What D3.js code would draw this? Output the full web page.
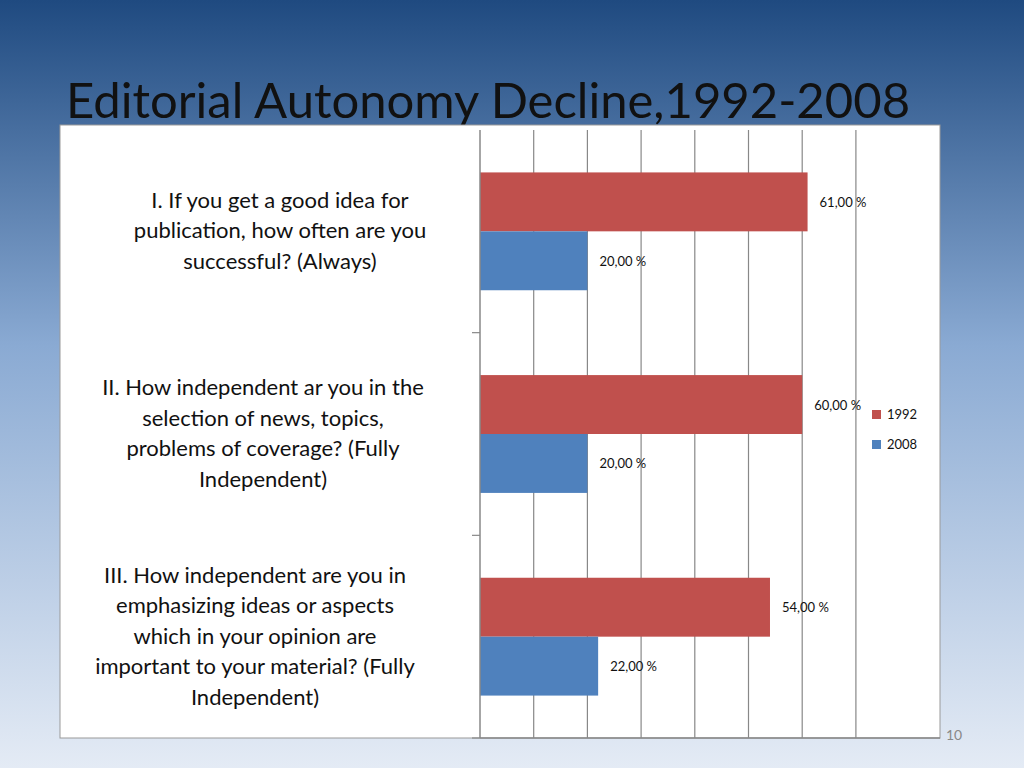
<!DOCTYPE html>
<html><head><meta charset="utf-8">
<script src="https://cdn.jsdelivr.net/npm/d3@7"></script>
<style>body{margin:0}</style></head>
<body><svg id="c" width="1024" height="768"></svg>
<script>
// data
const questions = [
  ["I. If you get a good idea for", "publication, how often are you", "successful? (Always)"],
  ["II. How independent  ar you in the", "selection of news, topics,", "problems of coverage? (Fully", "Independent)"],
  ["III. How independent  are you in", "emphasizing ideas or aspects", "which in your opinion are", "important to your material? (Fully", "Independent)"]
];
const labelX = [280, 263, 255];
const years = ["1992", "2008"];
const values1992 = [61, 60, 54];
const values2008 = [20, 20, 22];
const colors = ["#c0504d", "#4f81bd"];
const gridTicks = [10, 20, 30, 40, 50, 60, 70];

const svg = d3.select("#c");
const defs = svg.append("defs");
const g = defs.append("linearGradient").attr("id", "bg").attr("x1", 0).attr("y1", 0).attr("x2", 0).attr("y2", 1);
g.append("stop").attr("offset", "0").attr("stop-color", "#1f4a80");
g.append("stop").attr("offset", "0.45").attr("stop-color", "#8aaad3");
g.append("stop").attr("offset", "1").attr("stop-color", "#e4ebf5");
svg.append("rect").attr("width", 1024).attr("height", 768).attr("fill", "url(#bg)");

svg.append("text").attr("x", 66).attr("y", 118).attr("font-family", "Lato")
  .attr("font-size", 49).attr("fill", "#111").text("Editorial Autonomy Decline,1992-2008");

svg.append("rect").attr("x", 60).attr("y", 125).attr("width", 880).attr("height", 613)
  .attr("fill", "#fff").attr("stroke", "#999");

const x = d3.scaleLinear().domain([0, 10]).range([480, 533.7]);
const y = d3.scaleBand().domain(d3.range(3)).range([130, 738]);
const inner = d3.scaleBand().domain(years).range([0, y.bandwidth()]).paddingOuter(0.72).paddingInner(0);

svg.append("g").selectAll("line").data(gridTicks).join("line")
  .attr("x1", d => x(d)).attr("x2", d => x(d)).attr("y1", 130).attr("y2", 738)
  .attr("stroke", "#888").attr("stroke-width", 1.2);

const rows = svg.append("g").selectAll("g").data(d3.range(3)).join("g")
  .attr("transform", i => `translate(0,${y(i)})`);
[values1992, values2008].forEach((vals, k) => {
  rows.append("rect").attr("x", x(0)).attr("y", inner(years[k]))
    .attr("width", i => x(vals[i]) - x(0)).attr("height", inner.bandwidth())
    .attr("fill", colors[k]);
  rows.append("text").attr("x", i => x(vals[i]) + 12).attr("y", inner(years[k]) + inner.bandwidth() / 2 + 5)
    .attr("font-family", "Lato").attr("font-size", 13).attr("fill", "#111")
    .text(i => vals[i].toFixed(2).replace(".", ",") + " %");
});

// axis
svg.append("line").attr("x1", 480).attr("x2", 480).attr("y1", 130).attr("y2", 738).attr("stroke", "#888").attr("stroke-width", 1.5);
svg.append("line").attr("x1", 480).attr("x2", 940).attr("y1", 738).attr("y2", 738).attr("stroke", "#888").attr("stroke-width", 1.5);
svg.append("g").selectAll("line").data([1, 2, 3]).join("line")
  .attr("x1", 472).attr("x2", 480).attr("y1", i => 130 + y.step() * i).attr("y2", i => 130 + y.step() * i)
  .attr("stroke", "#888").attr("stroke-width", 1.2);

// category labels
questions.forEach((lines, i) => {
  const cy = y(i) + y.bandwidth() / 2;
  const lh = 30.5;
  const t = svg.append("text").attr("font-family", "Lato").attr("font-size", 22).attr("fill", "#111")
    .attr("text-anchor", "middle");
  lines.forEach((l, j) => t.append("tspan").attr("x", labelX[i])
    .attr("y", cy - (lines.length - 1) * lh / 2 + j * lh + 7).text(l));
});

// legend
years.forEach((yr, k) => {
  svg.append("rect").attr("x", 872).attr("y", 410 + k * 30).attr("width", 9).attr("height", 9).attr("fill", colors[k]);
  svg.append("text").attr("x", 887).attr("y", 419 + k * 30).attr("font-family", "Lato").attr("font-size", 13)
    .attr("fill", "#111").text(yr);
});

svg.append("text").attr("x", 946).attr("y", 740).attr("font-family", "Lato").attr("font-size", 14)
  .attr("fill", "#888").text("10");
</script></body></html>
